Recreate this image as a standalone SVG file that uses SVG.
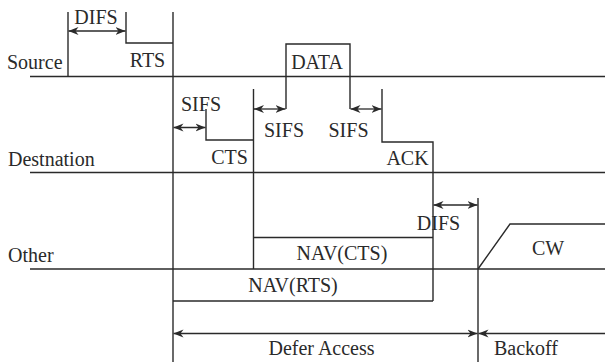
<svg xmlns="http://www.w3.org/2000/svg" width="605" height="362" viewBox="0 0 605 362">
<style>
.ln{stroke:#2a2a2a;stroke-width:1.4;fill:none}
.ar{stroke:#2a2a2a;stroke-width:1.3;fill:none;marker-start:url(#ah);marker-end:url(#ah)}
.ar1{stroke:#2a2a2a;stroke-width:1.3;fill:none;marker-start:url(#ah)}
text{font-family:"Liberation Serif","Times New Roman",serif;font-size:20px;fill:#2a2a2a}
.m{text-anchor:middle}
</style>
<defs>
<marker id="ah" viewBox="0 0 10 10" refX="10" refY="5" markerWidth="10" markerHeight="10" markerUnits="userSpaceOnUse" orient="auto-start-reverse">
<path d="M0,1 L10,5 L0,9 L3,5 Z" fill="#2a2a2a"/>
</marker>
</defs>
<rect width="605" height="362" fill="#fff"/>
<g id="labels">
<text x="7" y="69">Source</text>
<text x="8" y="166">Destnation</text>
<text x="8" y="262">Other</text>
</g>
<g id="timelines">
<line class="ln" x1="30" y1="76.5" x2="605" y2="76.5"/>
<line class="ln" x1="30" y1="172.5" x2="605" y2="172.5"/>
<line class="ln" x1="30" y1="269" x2="605" y2="269"/>
</g>
<g id="rts">
<path class="ln" d="M126,12 V43 H173"/>
<text x="147.5" y="67" class="m">RTS</text>
</g>
<g id="difs1">
<line class="ln" x1="68" y1="12" x2="68" y2="76.5"/>
<text x="96" y="24" class="m">DIFS</text>
</g>
<g id="data">
<path class="ln" d="M286,109 V44 H350 V109"/>
<text x="317" y="69" class="m">DATA</text>
</g>
<g id="cts">
<path class="ln" d="M206,109 V140 H253.5"/>
<text x="229.5" y="164" class="m">CTS</text>
</g>
<g id="ack">
<path class="ln" d="M382,89 V142 H433 V301"/>
<text x="407.5" y="165" class="m">ACK</text>
</g>
<g id="nav-cts">
<path class="ln" d="M253.5,89 V269 M253.5,237.5 H433"/>
<text x="342" y="260" class="m">NAV(CTS)</text>
</g>
<g id="nav-rts">
<path class="ln" d="M173,301 H433"/>
<text x="293" y="292" class="m">NAV(RTS)</text>
</g>
<g id="cw">
<path class="ln" d="M478,269 L510,224 H605"/>
<text x="548" y="255" class="m">CW</text>
</g>
<g id="markers">
<line class="ln" x1="173" y1="12" x2="173" y2="362"/>
<line class="ln" x1="478" y1="198" x2="478" y2="362"/>
</g>
<g id="connectors">
<line class="ar" x1="68.5" y1="31" x2="125.5" y2="31"/>
<line class="ar" x1="173.5" y1="127.5" x2="205.5" y2="127.5"/>
<line class="ar" x1="254" y1="109" x2="285.5" y2="109"/>
<line class="ar" x1="350.5" y1="109" x2="381.5" y2="109"/>
<line class="ar" x1="433.5" y1="205" x2="477.5" y2="205"/>
<line class="ar" x1="173.5" y1="333.5" x2="477.5" y2="333.5"/>
<line class="ar1" x1="478.5" y1="333.5" x2="605" y2="333.5"/>
</g>
<g id="texts">
<text x="201" y="110.5" class="m">SIFS</text>
<text x="284" y="137" class="m">SIFS</text>
<text x="348.5" y="137" class="m">SIFS</text>
<text x="438.5" y="230" class="m">DIFS</text>
<text x="321.5" y="355" class="m">Defer Access</text>
<text x="526" y="355" class="m">Backoff</text>
</g>
</svg>
